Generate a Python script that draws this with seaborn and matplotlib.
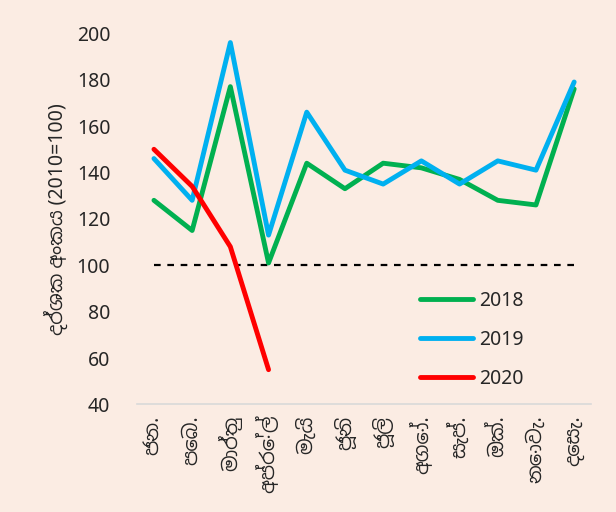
import matplotlib

matplotlib.use("Agg")
import matplotlib.pyplot as plt  # noqa: E402
import pandas as pd  # noqa: E402
import seaborn as sns  # noqa: E402

months = ["ජන.", "පෙබ.", "මාර්තු", "අප්‍රේල්", "මැයි", "ජූනි",
          "ජූලි", "අගෝ.", "සැප්.", "ඔක්.", "නොවැ.", "දෙසැ."]
idx_2018 = [128, 115, 177, 101, 144, 133, 144, 142, 137, 128, 126, 176]
idx_2019 = [146, 128, 196, 113, 166, 141, 135, 145, 135, 145, 141, 179]
idx_2020 = [150, 134, 108, 55]
base_level = 100
years = ["2018", "2019", "2020"]
colours = ["#00B050", "#00B0F0", "#FF0000"]

rows = []
for year, values in zip(years, [idx_2018, idx_2019, idx_2020]):
    for month, value in zip(months, values):
        rows.append({"month": month, "year": year, "index": value})
df = pd.DataFrame(rows)

bg = "#FBECE3"
sns.set_style("white")
plt.rcParams["font.family"] = ["Noto Sans", "Noto Sans Sinhala", "DejaVu Sans"]

figure, axis = plt.subplots(figsize=(6.16, 5.12), dpi=100)
figure.patch.set_facecolor(bg)
axis.set_facecolor(bg)

sns.lineplot(
    data=df, x="month", y="index", hue="year", hue_order=years,
    palette=colours, linewidth=3.5, sort=False, ax=axis,
)
axis.plot(range(len(months)), [base_level] * len(months),
          color="black", linestyle=(0, (3, 3)), linewidth=1.6, zorder=1)

axis.set_ylim(40, 200)
axis.set_yticks(range(40, 201, 20))
axis.set_xlim(-0.45, len(months) - 0.55)
axis.set_xticks(range(len(months)))
axis.set_xticklabels(months, rotation=90, fontsize=14)
axis.tick_params(axis="y", labelsize=14, length=0, pad=19)
axis.tick_params(axis="x", length=0, pad=8)
axis.set_xlabel("")
axis.set_ylabel("දර්ශක අංකය (2010=100)", fontsize=14, labelpad=6)

for side in ["top", "right", "left"]:
    axis.spines[side].set_visible(False)
axis.spines["bottom"].set_color("#D9D9D9")
axis.spines["bottom"].set_linewidth(1.2)

axis.legend(
    loc="lower right", bbox_to_anchor=(0.89, -0.005), frameon=False,
    fontsize=14, handlelength=2.7, handletextpad=0.35, labelspacing=0.98,
)

figure.subplots_adjust(left=0.222, right=0.96, top=0.935, bottom=0.21)
figure.savefig("out.png", dpi=100, facecolor=bg)
